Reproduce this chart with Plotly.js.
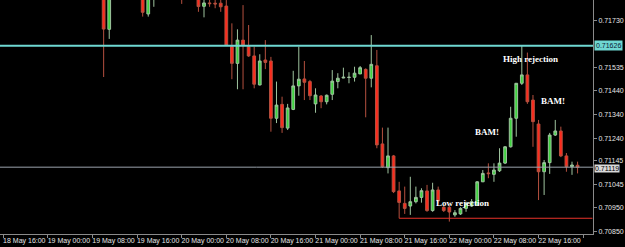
<!DOCTYPE html>
<html><head><meta charset="utf-8">
<script src="https://cdn.plot.ly/plotly-3.0.1.min.js"></script>
<style>html,body{margin:0;padding:0;background:#000;}#chart{width:625px;height:247px;}</style>
</head><body><div id="chart"></div>
<script>
// hourly candles (only the ones visible in the window)
const times = [
'2015-05-19 10:00','2015-05-19 11:00','2015-05-19 17:00','2015-05-19 18:00','2015-05-19 19:00',
'2015-05-20 00:00','2015-05-20 03:00','2015-05-20 04:00','2015-05-20 05:00','2015-05-20 06:00','2015-05-20 07:00',
'2015-05-20 08:00','2015-05-20 09:00','2015-05-20 10:00','2015-05-20 11:00','2015-05-20 12:00','2015-05-20 13:00',
'2015-05-20 14:00','2015-05-20 15:00','2015-05-20 16:00','2015-05-20 17:00','2015-05-20 18:00','2015-05-20 19:00',
'2015-05-20 20:00','2015-05-20 21:00','2015-05-20 22:00','2015-05-20 23:00',
'2015-05-21 00:00','2015-05-21 01:00','2015-05-21 02:00','2015-05-21 03:00','2015-05-21 04:00','2015-05-21 05:00',
'2015-05-21 06:00','2015-05-21 07:00','2015-05-21 08:00','2015-05-21 09:00','2015-05-21 10:00','2015-05-21 11:00',
'2015-05-21 12:00','2015-05-21 13:00','2015-05-21 14:00','2015-05-21 15:00','2015-05-21 16:00','2015-05-21 17:00',
'2015-05-21 18:00','2015-05-21 19:00','2015-05-21 20:00','2015-05-21 21:00','2015-05-21 22:00','2015-05-21 23:00',
'2015-05-22 00:00','2015-05-22 01:00','2015-05-22 02:00','2015-05-22 03:00','2015-05-22 04:00','2015-05-22 05:00',
'2015-05-22 06:00','2015-05-22 07:00','2015-05-22 08:00','2015-05-22 09:00','2015-05-22 10:00','2015-05-22 11:00',
'2015-05-22 12:00','2015-05-22 13:00','2015-05-22 14:00','2015-05-22 15:00','2015-05-22 16:00','2015-05-22 17:00',
'2015-05-22 18:00','2015-05-22 19:00','2015-05-22 20:00','2015-05-22 21:00','2015-05-22 22:00','2015-05-22 23:00'
];
const open = [
0.71880,0.71694,0.71842,0.71758,0.71825,
0.71832,0.71828,0.71790,0.71804,0.71803,0.71803,
0.71791,0.71622,0.71552,0.71649,0.71622,0.71583,
0.71462,0.71566,0.71562,0.71323,0.71381,0.71282,
0.71360,0.71458,0.71487,0.71476,
0.71383,0.71416,0.71392,0.71423,0.71476,0.71491,
0.71493,0.71494,0.71508,0.71527,0.71490,0.71542,
0.71216,0.71117,0.71166,0.71020,0.70968,0.70957,
0.70975,0.70993,0.71020,0.70938,0.71024,0.70952,
0.70952,0.70920,0.70924,0.70947,0.70957,0.70961,
0.71058,0.71095,0.71089,0.71104,0.71136,0.71204,
0.71323,0.71469,0.71504,0.71399,0.71299,0.71100,
0.71138,0.71253,0.71270,0.71166,0.71121,0.71127
];
const high = [
0.71895,0.71880,0.71850,0.71850,0.71850,
0.71845,0.71840,0.71822,0.71818,0.71819,0.71818,
0.71816,0.71719,0.71694,0.71795,0.71712,0.71622,
0.71590,0.71649,0.71579,0.71476,0.71413,0.71383,
0.71521,0.71622,0.71562,0.71483,
0.71448,0.71420,0.71422,0.71524,0.71511,0.71534,
0.71515,0.71538,0.71541,0.71531,0.71670,0.71608,
0.71284,0.71284,0.71170,0.71058,0.71038,0.71079,
0.71038,0.71031,0.71045,0.71054,0.71038,0.70957,
0.70961,0.70940,0.70952,0.70975,0.70986,0.71061,
0.71107,0.71135,0.71135,0.71198,0.71207,0.71371,
0.71470,0.71627,0.71597,0.71420,0.71316,0.71149,
0.71262,0.71316,0.71288,0.71178,0.71142,0.71142
];
const low = [
0.71495,0.71654,0.71747,0.71747,0.71788,
0.71800,0.71767,0.71744,0.71788,0.71782,0.71767,
0.71625,0.71486,0.71444,0.71444,0.71579,0.71448,
0.71460,0.71528,0.71267,0.71303,0.71262,0.71274,
0.71357,0.71417,0.71399,0.71399,
0.71346,0.71365,0.71381,0.71399,0.71448,0.71490,
0.71469,0.71476,0.71508,0.71327,0.71452,0.71198,
0.71116,0.71093,0.71011,0.70906,0.70924,0.70920,
0.70968,0.70971,0.70933,0.70933,0.70968,0.70932,
0.70892,0.70912,0.70920,0.70933,0.70953,0.70957,
0.71057,0.71073,0.71058,0.71099,0.71132,0.71201,
0.71246,0.71462,0.71383,0.71204,0.70982,0.71003,
0.71091,0.71249,0.71161,0.71100,0.71087,0.71093
];
const close = [
0.71695,0.71862,0.71765,0.71838,0.71836,
0.71826,0.71789,0.71804,0.71801,0.71800,0.71788,
0.71627,0.71552,0.71649,0.71629,0.71583,0.71465,
0.71562,0.71556,0.71323,0.71378,0.71284,0.71366,
0.71458,0.71486,0.71473,0.71417,
0.71420,0.71392,0.71419,0.71478,0.71490,0.71494,
0.71494,0.71511,0.71534,0.71490,0.71548,0.71212,
0.71121,0.71166,0.71017,0.70972,0.70947,0.70975,
0.70993,0.71021,0.70938,0.71024,0.70978,0.70938,
0.70932,0.70929,0.70947,0.70968,0.70975,0.71058,
0.71093,0.71092,0.71107,0.71136,0.71204,0.71323,
0.71469,0.71504,0.71392,0.71309,0.71100,0.71138,
0.71253,0.71270,0.71166,0.71121,0.71128,0.71119
];
const priceTicks = [0.71730,0.71535,0.71440,0.71340,0.71240,0.71145,0.71045,0.70950,0.70850];
const resistanceLevel = 0.71626;
const lastPrice = 0.71119;
const supportLevel = 0.70906;
const supportStart = '2015-05-21 15:00';
const notes = [
  {text:'High rejection', t:'2015-05-22 14:30', p:0.71570},
  {text:'BAM!', t:'2015-05-22 18:36', p:0.71395},
  {text:'BAM!', t:'2015-05-22 06:40', p:0.71266},
  {text:'Low rejection', t:'2015-05-22 02:18', p:0.70970}
];

const trace = {
  type:'candlestick', x:times, open:open, high:high, low:low, close:close,
  increasing:{line:{color:'#9fc49f',width:1}, fillcolor:'#3ed43e'},
  decreasing:{line:{color:'#b5503f',width:1}, fillcolor:'#ff2a1c'},
  hoverinfo:'skip', showlegend:false
};

const tickFont = {family:'Liberation Sans, Arial, sans-serif', size:7, color:'#e6e6e6'};
const noteFont = {family:'Liberation Serif, Times New Roman, serif', size:9, color:'#ffffff'};

const annotations = notes.map(n => ({
  x:n.t, y:n.p, xref:'x', yref:'y', text:'<b>'+n.text+'</b>', showarrow:false, font:noteFont
}));
annotations.push({x:1, xref:'paper', y:resistanceLevel, yref:'y', xanchor:'left', xshift:1,
  text:resistanceLevel.toFixed(5), showarrow:false, bgcolor:'#6fd8d2', borderpad:1,
  font:{family:tickFont.family, size:7, color:'#0b2035'}});
annotations.push({x:1, xref:'paper', y:lastPrice, yref:'y', xanchor:'left', xshift:1, yshift:-1,
  text:lastPrice.toFixed(5), showarrow:false, bgcolor:'#d9d9d9', borderpad:0,
  font:{family:tickFont.family, size:7, color:'#000000'}});

const layout = {
  width:625, height:247,
  margin:{l:0, r:32, t:0, b:13, pad:0},
  paper_bgcolor:'#000', plot_bgcolor:'#000',
  showlegend:false,
  xaxis:{type:'date', range:['2015-05-18 15:24:36','2015-05-23 01:46:00'],
    rangeslider:{visible:false}, showgrid:false, zeroline:false,
    showline:true, linecolor:'#8a8a8a', linewidth:1, mirror:false,
    ticks:'outside', ticklen:3, tickcolor:'#8a8a8a', tickangle:0,
    tick0:'2015-05-18 16:00', dtick:8*3600*1000, tickformat:'%d %b %H:%M',
    tickfont:tickFont, ticklabelshift:21, ticklabelstandoff:-3, fixedrange:true, automargin:false},
  yaxis:{side:'right', range:[0.708403,0.718163], showgrid:false, zeroline:false,
    showline:true, linecolor:'#8a8a8a', linewidth:1,
    ticks:'outside', ticklen:3, tickcolor:'#8a8a8a',
    tickvals:priceTicks, ticktext:priceTicks.map(v=>v.toFixed(5)),
    tickfont:tickFont, fixedrange:true, automargin:false},
  shapes:[
    {type:'line', xref:'paper', x0:0, x1:1, yref:'y', y0:resistanceLevel, y1:resistanceLevel,
     line:{color:'#6fd8d2', width:2}},
    {type:'line', xref:'paper', x0:0, x1:1, yref:'y', y0:lastPrice, y1:lastPrice,
     line:{color:'#9ba3ad', width:1}},
    {type:'line', xref:'x', x0:supportStart, x1:'2015-05-23 01:40', yref:'y', y0:supportLevel, y1:supportLevel,
     line:{color:'#e8332a', width:1}}
  ],
  annotations:annotations
};
Plotly.newPlot('chart', [trace], layout, {staticPlot:true, displayModeBar:false});
</script></body></html>
